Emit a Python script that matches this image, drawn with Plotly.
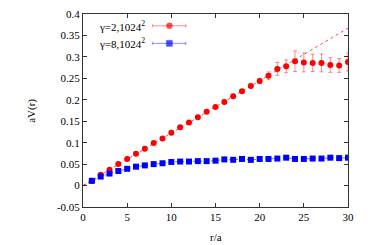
import plotly.graph_objects as go

r = list(range(1, 31))
v_g2 = [0.011, 0.025, 0.037, 0.050, 0.062, 0.074, 0.086, 0.099, 0.110, 0.123,
        0.136, 0.147, 0.159, 0.172, 0.183, 0.195, 0.208, 0.220, 0.232, 0.244,
        0.256, 0.272, 0.278, 0.290, 0.287, 0.286, 0.286, 0.281, 0.280, 0.288]
e_g2 = [0.002] * 15 + [0.003, 0.003, 0.004, 0.004, 0.006,
                       0.009, 0.015, 0.015, 0.024, 0.022, 0.020, 0.021, 0.017, 0.016, 0.021]
v_g8 = [0.011, 0.021, 0.028, 0.034, 0.039, 0.044, 0.047, 0.050, 0.052, 0.055,
        0.056, 0.056, 0.057, 0.057, 0.058, 0.061, 0.060, 0.062, 0.060, 0.062,
        0.062, 0.063, 0.065, 0.062, 0.062, 0.063, 0.063, 0.065, 0.064, 0.065]
e_g8 = [0.001] * 30
fit_x = [0, 30]
fit_g2 = [0.0, 0.367]

labels = ["γ=2,1024<sup>2</sup>", "γ=8,1024<sup>2</sup>"]
xticks = [0, 5, 10, 15, 20, 25, 30]
yticks = [-0.05, 0, 0.05, 0.1, 0.15, 0.2, 0.25, 0.3, 0.35, 0.4]
yticktext = ["-0.05", "0", "0.05", "0.1", "0.15", "0.2", "0.25", "0.3", "0.35", "0.4"]

RED = "#ff0000"
BLUE = "#0000ff"
FONT = "Liberation Serif"
FS = 11

fig = go.Figure()

# fit lines (dotted)
fig.add_trace(go.Scatter(x=fit_x, y=fit_g2, mode="lines",
                         line=dict(color="rgba(255,0,0,0.7)", width=1, dash="dot"),
                         showlegend=False, hoverinfo="skip"))
fig.add_trace(go.Scatter(x=[0] + r, y=[0] + v_g8, mode="lines",
                         line=dict(color="rgba(0,0,255,0.6)", width=1, dash="dot"),
                         showlegend=False, hoverinfo="skip"))

fig.add_trace(go.Scatter(x=r, y=v_g2, mode="markers",
                         marker=dict(color=RED, size=6, symbol="circle"),
                         error_y=dict(type="data", array=e_g2, color="rgba(255,0,0,0.45)",
                                      thickness=1, width=2),
                         showlegend=False))
fig.add_trace(go.Scatter(x=r, y=v_g8, mode="markers",
                         marker=dict(color=BLUE, size=6, symbol="square"),
                         error_y=dict(type="data", array=e_g8, color="rgba(0,0,255,0.45)",
                                      thickness=1, width=2),
                         showlegend=False))

# legend (gnuplot style: text then sample) on overlay axes in [0,1]
leg_y = [0.939, 0.848]
leg_cols = [(RED, "rgba(255,0,0,0.45)", "circle"), (BLUE, "rgba(0,0,255,0.45)", "square")]
for i, (lab, (mc, lc, sym)) in enumerate(zip(labels, leg_cols)):
    yy = leg_y[i]
    fig.add_trace(go.Scatter(x=[0.263, 0.326, 0.388], y=[yy, yy, yy], mode="lines+markers",
                             xaxis="x2", yaxis="y2",
                             line=dict(color=lc, width=1),
                             marker=dict(color=mc, size=[0, 6, 0], symbol=sym),
                             error_y=dict(type="data", array=[0.008, 0, 0.008], color=lc,
                                          thickness=1, width=0),
                             showlegend=False, hoverinfo="skip"))
    fig.add_annotation(xref="x2", yref="y2", x=0.242, y=yy, text=lab, showarrow=False,
                       xanchor="right", yanchor="middle",
                       font=dict(family=FONT, size=FS, color="black"))

fig.add_annotation(xref="paper", yref="paper", x=0.5, y=-0.155, text="r/a", showarrow=False,
                   xanchor="center", yanchor="middle",
                   font=dict(family=FONT, size=FS, color="black"))
fig.add_annotation(xref="paper", yref="paper", x=-0.195, y=0.5, text="aV(r)", showarrow=False,
                   textangle=-90, xanchor="center", yanchor="middle",
                   font=dict(family=FONT, size=FS, color="black"))

axis_common = dict(showline=True, linecolor="#333333", linewidth=1, mirror="allticks",
                   ticks="inside", ticklen=4, tickcolor="#333333", showgrid=False,
                   zeroline=False, automargin=False, ticklabeloverflow="allow",
                   tickfont=dict(family=FONT, size=FS, color="black"))

# page body has an 8px default margin, so the figure is shrunk by 8px and offset
fig.update_layout(
    width=362, height=237,
    margin=dict(l=75, r=22, t=6, b=38),
    paper_bgcolor="white", plot_bgcolor="white",
    xaxis=dict(range=[0, 30], tickvals=xticks, **axis_common),
    yaxis=dict(range=[-0.05, 0.4], tickvals=yticks, ticktext=yticktext, **axis_common),
    xaxis2=dict(range=[0, 1], overlaying="x", visible=False),
    yaxis2=dict(range=[0, 1], overlaying="y", visible=False),
    showlegend=False,
)

fig.write_html("out.html")
